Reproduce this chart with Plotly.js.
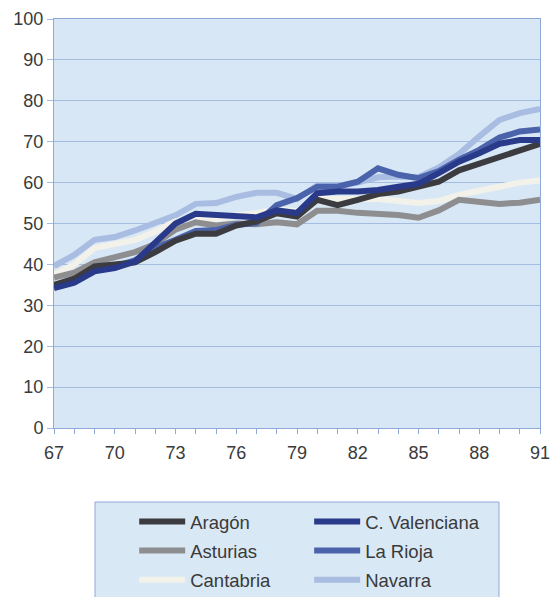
<!DOCTYPE html>
<html><head><meta charset="utf-8">
<script src="https://cdn.plot.ly/plotly-3.0.1.min.js"></script>
<style>html,body{margin:0;padding:0;background:#fff}#chart{width:552px;height:597px}</style>
</head><body><div id="chart"></div>
<script>
const years = [67,68,69,70,71,72,73,74,75,76,77,78,79,80,81,82,83,84,85,86,87,88,89,90,91];
const aragon     = [35,36.5,39.5,40,40.5,43,45.8,47.5,47.5,49.5,50.5,52.5,51.7,55.8,54.5,55.8,57.2,57.8,59,60.2,63,64.6,66.4,68,69.5];
const asturias   = [36.8,38,40.5,41.8,43,45,48.5,50.3,49.5,50,49.8,50.3,49.8,53.1,53.1,52.6,52.5,52.1,51.4,53.2,55.8,55.3,54.8,55.1,55.8];
const cantabria  = [37.5,40,44,45,46,48,50.5,51.5,51,52,52.5,53.5,53,56,56,56,56,55.5,55,55.5,57,58,59,60,60.5];
const valenciana = [34.2,35.5,38.3,39.1,40.7,45.2,50,52.4,52.2,51.9,51.5,53.2,52.6,57.4,57.8,57.8,58.2,59,59.7,62.3,65.1,67.2,69.5,70.4,70.4];
const larioja    = [34.8,36,38.8,39.5,41,44,46,48.2,48.4,49.7,50.1,54.5,56.2,59,59,60.2,63.5,61.9,61.1,62.8,65.6,68,71,72.5,73];
const navarra    = [39.6,42.3,46,46.7,48.3,50.2,52,54.8,55,56.5,57.5,57.5,56,59.3,59.2,60,61.3,61.5,61.3,63.7,67,71.3,75.3,77,78];
const names = ["Aragón","Asturias","Cantabria","C. Valenciana","La Rioja","Navarra"];
const xTickVals = [67,70,73,76,79,82,85,88,91];

function tr(y, name, color, leg, grp){
  return {x: years, y: y, name: name, type:'scatter', mode:'lines',
    line:{color: color, width: 6}, legend: leg, legendgroup: grp, hoverinfo:'skip'};
}
const data = [
  tr(navarra, names[5], '#a9bde2', 'legend2', 'g6'),
  tr(cantabria, names[2], '#f2f2ea', 'legend', 'g3'),
  tr(asturias, names[1], '#8e8e90', 'legend', 'g2'),
  tr(larioja, names[4], '#4b63aa', 'legend2', 'g5'),
  tr(aragon, names[0], '#3c3c40', 'legend', 'g1'),
  tr(valenciana, names[3], '#2a3a8a', 'legend2', 'g4')
];
data[4].legendrank=1; data[2].legendrank=2; data[1].legendrank=3;
data[5].legendrank=1; data[3].legendrank=2; data[0].legendrank=3;

const axisCol = '#8fa9d6';
const gridCol = '#a3bcdf';
const legFont = {family:'Liberation Sans, Arial, sans-serif', size:18.5, color:'#3a3a3a'};
const legY = -(503-428)/409;
const layout = {
  width:552, height:597,
  margin:{l:54, r:12, t:19, b:169, autoexpand:false},
  paper_bgcolor:'#ffffff', plot_bgcolor:'#d8e7f5',
  font:{family:'Liberation Sans, Arial, sans-serif', size:18, color:'#3a3a3a'},
  showlegend:true,
  xaxis:{range:[67,91], tickvals:xTickVals, ticktext:xTickVals.map(String),
    ticks:'outside', ticklen:5, tickcolor:axisCol, showgrid:false, zeroline:false,
    showline:true, linecolor:axisCol, linewidth:1, mirror:true, ticklabelstandoff:3,
    minor:{dtick:1, tick0:67, ticks:'outside', ticklen:5, tickcolor:axisCol, showgrid:false},
    fixedrange:true},
  yaxis:{range:[0,100], dtick:10, ticks:'outside', ticklen:6, tickcolor:gridCol,
    showgrid:true, gridcolor:gridCol, gridwidth:1, zeroline:false,
    showline:true, linecolor:axisCol, linewidth:1, mirror:true, fixedrange:true},
  legend:{x:0.165, y:legY, xanchor:'left', yanchor:'top', bgcolor:'rgba(0,0,0,0)',
    borderwidth:0, font:legFont, tracegroupgap:2, itemwidth:46},
  legend2:{x:0.525, y:legY, xanchor:'left', yanchor:'top', bgcolor:'rgba(0,0,0,0)',
    borderwidth:0, font:legFont, tracegroupgap:2, itemwidth:46},
  shapes:[{type:'rect', xref:'paper', yref:'paper',
    x0:(95-54)/486, x1:(499-54)/486, y0:-(600-428)/409, y1:-(502-428)/409,
    fillcolor:'#d9e8f5', line:{color:'#8fa9d6', width:1}, layer:'below'}]
};
Plotly.newPlot('chart', data, layout, {displayModeBar:false, staticPlot:true});
</script></body></html>
